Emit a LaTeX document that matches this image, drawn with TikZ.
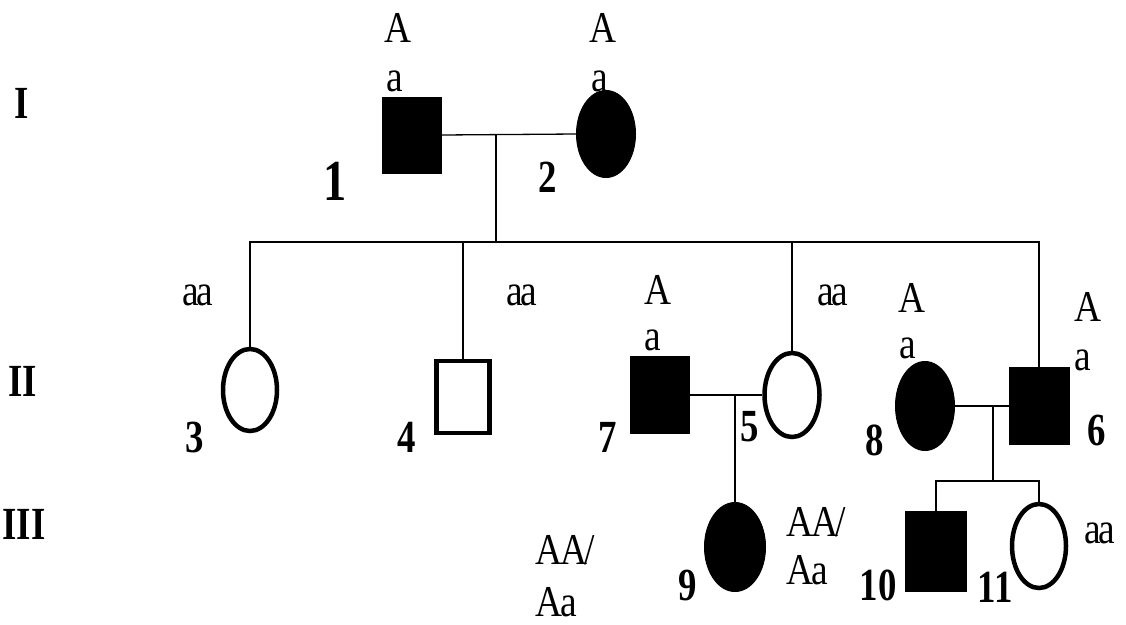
\documentclass[tikz,border=0pt]{standalone}
\usepackage{fontspec}
\setmainfont{Liberation Serif}[FakeStretch=0.8]
\newfontfamily\genofont{Liberation Serif}[FakeStretch=0.85,LetterSpace=-5]
\usetikzlibrary{shapes.geometric}
\begin{document}
\begin{tikzpicture}[x=1pt,y=-1pt,
  fm/.style={rectangle,fill=black,draw=black,line width=1pt,inner sep=0pt},
  ff/.style={ellipse,fill=black,draw=black,line width=1pt,inner sep=0pt},
  om/.style={rectangle,draw=black,line width=4.5pt,inner sep=0pt},
  of/.style={ellipse,draw=black,line width=4.5pt,inner sep=0pt},
  geno/.style={inner sep=0pt,font=\genofont\fontsize{44}{46}\selectfont},
  num/.style={inner sep=0pt,font=\fontsize{46}{48}\selectfont\bfseries},
  gen/.style={inner sep=0pt,font=\fontsize{46}{48}\selectfont\bfseries},
  conn/.style={line width=1.3pt,black}]
\useasboundingbox (0,0) rectangle (1126,624);

% generation labels
\node[gen] (gI) at (22,103) {I};
\node[gen] (gII) at (23,381) {II};
\node[gen] (gIII) at (24,524) {III};

% symbols
\node[fm,minimum width=59pt,minimum height=76pt] (n1) at (412,135) {};
\node[ff,minimum width=59pt,minimum height=87pt] (n2) at (606,134) {};
\node[of,minimum width=54pt,minimum height=82pt] (n3) at (250,390) {};
\node[om,minimum width=53pt,minimum height=72pt] (n4) at (463,397) {};
\node[fm,minimum width=59pt,minimum height=77pt] (n7) at (660,395) {};
\node[of,minimum width=55pt,minimum height=84pt] (n5) at (792,395) {};
\node[ff,minimum width=59pt,minimum height=89pt] (n8) at (925,406) {};
\node[fm,minimum width=60pt,minimum height=77pt] (n6) at (1039,406) {};
\node[ff,minimum width=61pt,minimum height=89pt] (n9) at (735,547) {};
\node[fm,minimum width=61pt,minimum height=80pt] (n10) at (936,551) {};
\node[of,minimum width=54pt,minimum height=84pt] (n11) at (1039,546) {};

% coordinates
\coordinate (m12) at (496,135);
\coordinate (s1) at (496,242);
\coordinate (m75) at (735,395);
\coordinate (m86) at (993,406);
\coordinate (s3) at (993,481);

% connectors
\draw[conn] (n1.east) -- (n2.west);
\draw[conn] (m12) -- (s1);
\draw[conn] (n3.north) -- (n3.north |- s1) -- (n6.north |- s1) -- (n6.north);
\draw[conn] (n4.north |- s1) -- (n4.north);
\draw[conn] (n5.north |- s1) -- (n5.north);
\draw[conn] (n7.east) -- (n5.west);
\draw[conn] (m75) -- (n9.north);
\draw[conn] (n8.east) -- (n6.west);
\draw[conn] (m86) -- (s3);
\draw[conn] (n10.north) -- (n10.north |- s3) -- (n11.north |- s3) -- (n11.north);

% genotypes
\node[geno] (g1A) at (398,28) {A};
\node[geno] (g1a) at (395,81) {a};
\node[geno] (g2A) at (603,28) {A};
\node[geno] (g2a) at (600,81) {a};
\node[geno] (g3) at (198,295) {aa};
\node[geno] (g4) at (522,295) {aa};
\node[geno] (g7A) at (658,290) {A};
\node[geno] (g7a) at (653,340) {a};
\node[geno] (g5) at (833,295) {aa};
\node[geno] (g8A) at (912,298) {A};
\node[geno] (g8a) at (908,348) {a};
\node[geno] (g6A) at (1088,307) {A};
\node[geno] (g6a) at (1083,360) {a};
\node[geno,anchor=west] (g9r1) at (786,522) {AA/};
\node[geno,anchor=west] (g9r2) at (786,570) {Aa};
\node[geno,anchor=west] (g9l1) at (535,550) {AA/};
\node[geno,anchor=west] (g9l2) at (535,602) {Aa};
\node[geno] (g11) at (1100,533) {aa};

% numbers
\node[num,font=\fontsize{58}{60}\selectfont\bfseries] (l1) at (335,181) {1};
\node[num] (l2) at (548,177) {2};
\node[num] (l3) at (195,437) {3};
\node[num] (l4) at (407,437) {4};
\node[num] (l7) at (608,437) {7};
\node[num] (l5) at (750,427) {5};
\node[num] (l8) at (875,440) {8};
\node[num] (l6) at (1097,430) {6};
\node[num] (l9) at (688,585) {9};
\node[num] (l10) at (878,585) {10};
\node[num] (l11) at (995,587) {11};
\end{tikzpicture}
\end{document}
